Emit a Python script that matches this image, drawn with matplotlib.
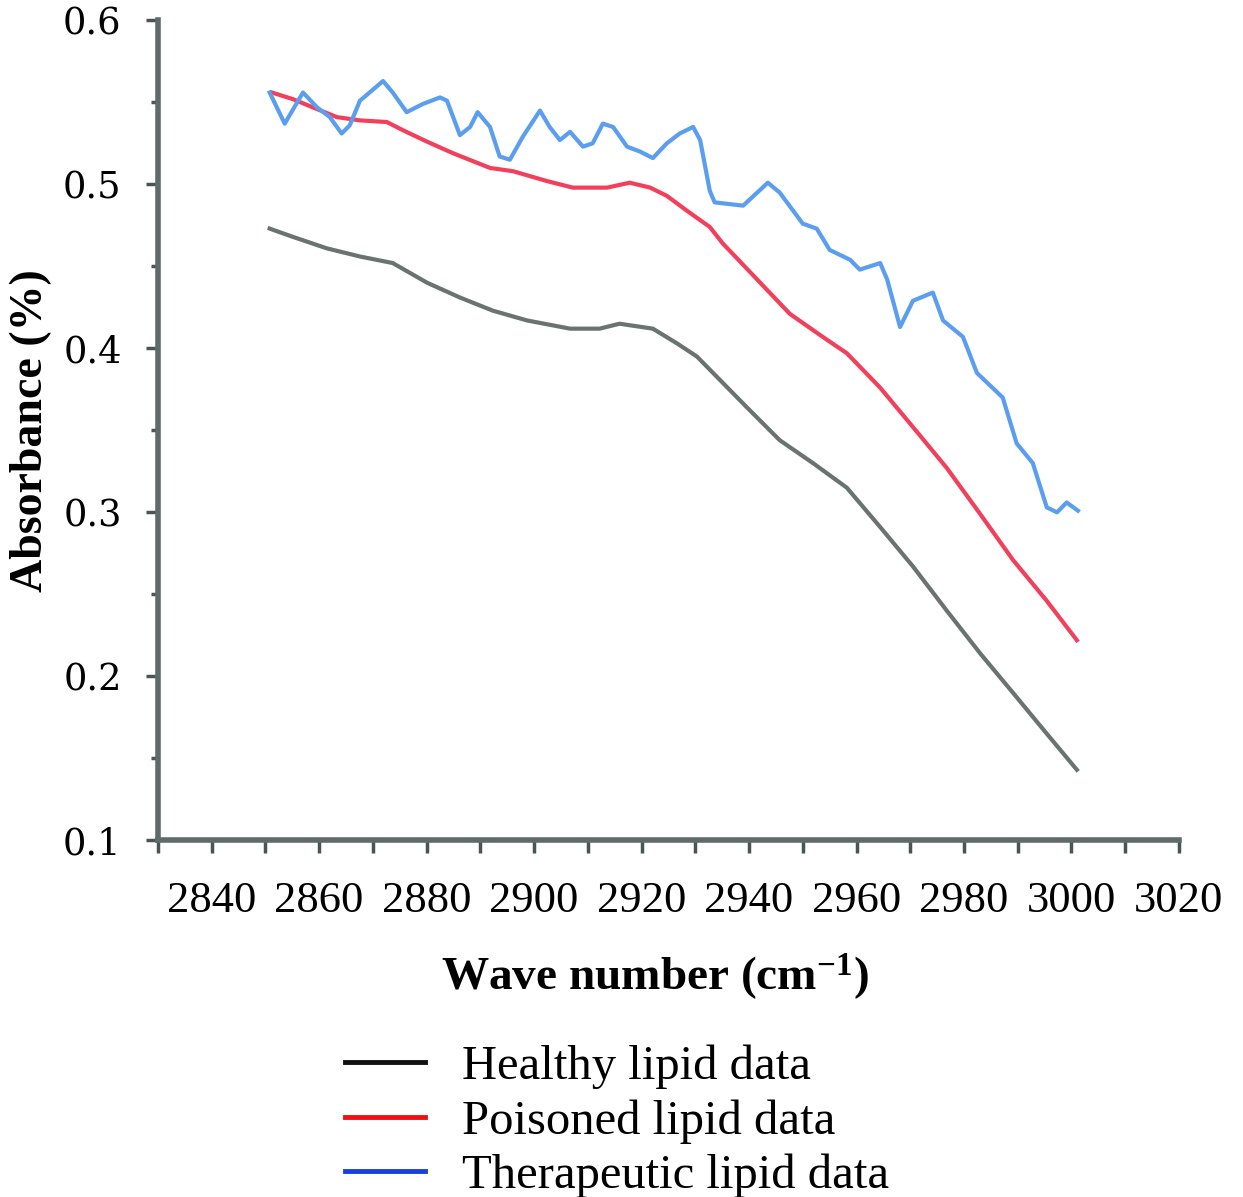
import matplotlib
matplotlib.use("Agg")
import matplotlib.pyplot as plt
from matplotlib.lines import Line2D
from matplotlib.ticker import MultipleLocator
import numpy as np

plt.rcParams['font.family'] = ['Liberation Serif', 'DejaVu Serif']
plt.rcParams['mathtext.fontset'] = 'custom'
plt.rcParams['mathtext.rm'] = 'Liberation Serif:bold'
plt.rcParams['mathtext.default'] = 'rm'

# healthy lipid
healthy_x = [2850.8, 2855.1, 2861.4, 2867.6, 2873.7, 2880.1, 2886.2, 2892.3, 2898.7,
             2906.7, 2912.2, 2915.9, 2922.1, 2926.6, 2930.3, 2933.3, 2939.6, 2945.7,
             2951.9, 2958.2, 2964.4, 2970.5, 2976.8, 2983.0, 2989.1, 2995.4, 3001.0]
healthy_y = [0.473, 0.468, 0.461, 0.456, 0.452, 0.440, 0.431, 0.423, 0.417,
             0.412, 0.412, 0.415, 0.412, 0.403, 0.395, 0.385, 0.364, 0.344,
             0.330, 0.315, 0.291, 0.267, 0.240, 0.214, 0.190, 0.165, 0.143]

# poisoned lipid
poisoned_x = [2851.2, 2855.1, 2858.8, 2863.3, 2867.6, 2872.6, 2875.6, 2880.1, 2884.9,
              2891.8, 2896.1, 2902.4, 2907.2, 2913.6, 2917.8, 2921.6, 2924.7, 2928.4,
              2932.7, 2935.1, 2941.5, 2947.6, 2953.7, 2958.2, 2964.4, 2970.5, 2976.8,
              2983.0, 2989.1, 2995.4, 3001.0]
poisoned_y = [0.556, 0.552, 0.547, 0.541, 0.539, 0.538, 0.533, 0.526, 0.519,
              0.510, 0.508, 0.502, 0.498, 0.498, 0.501, 0.498, 0.493, 0.484,
              0.474, 0.464, 0.442, 0.421, 0.407, 0.397, 0.376, 0.352, 0.327,
              0.299, 0.271, 0.246, 0.222]

# therapeutic lipid
therapeutic_x = [2850.8, 2853.6, 2857.0, 2859.6, 2862.0, 2864.2, 2865.7, 2867.6, 2871.9,
                 2873.7, 2876.3, 2879.3, 2882.5, 2883.8, 2886.2, 2888.1, 2889.5, 2891.8,
                 2893.6, 2895.5, 2897.9, 2901.1, 2902.9, 2904.8, 2906.7, 2909.1, 2910.9,
                 2912.8, 2914.7, 2917.3, 2919.7, 2922.1, 2924.7, 2927.1, 2929.6, 2930.9,
                 2932.7, 2933.6, 2938.9, 2943.5, 2945.7, 2950.0, 2952.6, 2955.0, 2958.8,
                 2960.6, 2964.4, 2965.7, 2968.1, 2970.5, 2974.2, 2976.1, 2979.8, 2982.4,
                 2987.2, 2989.8, 2992.8, 2995.4, 2997.3, 2999.1, 3001.2]
therapeutic_y = [0.556, 0.537, 0.556, 0.547, 0.541, 0.531, 0.536, 0.551, 0.563,
                 0.556, 0.544, 0.549, 0.553, 0.551, 0.530, 0.535, 0.544, 0.535,
                 0.517, 0.515, 0.529, 0.545, 0.535, 0.527, 0.532, 0.523, 0.525,
                 0.537, 0.535, 0.523, 0.520, 0.516, 0.525, 0.531, 0.535, 0.527,
                 0.496, 0.489, 0.487, 0.501, 0.495, 0.476, 0.473, 0.460, 0.454,
                 0.448, 0.452, 0.442, 0.413, 0.429, 0.434, 0.417, 0.407, 0.385,
                 0.370, 0.342, 0.330, 0.303, 0.300, 0.306, 0.301]

legend_labels = ['Healthy lipid data', 'Poisoned lipid data', 'Therapeutic lipid data']
x_ticklabels = list(range(2840, 3021, 20))
y_ticklabels = [0.1, 0.2, 0.3, 0.4, 0.5, 0.6]

fig = plt.figure(figsize=(12.43, 11.97), dpi=100)
ax = fig.add_axes([0.127, 0.298, 0.8215, 0.685])

ax.plot(healthy_x, healthy_y, color='#6b7371', lw=3)
ax.plot(poisoned_x, poisoned_y, color='#f2405c', lw=3)
ax.plot(therapeutic_x, therapeutic_y, color='#5b9ef0', lw=3)

ax.set_xlim(2830, 3020)
ax.set_ylim(0.1, 0.6)

for s in ['top', 'right']:
    ax.spines[s].set_visible(False)
for s in ['left', 'bottom']:
    ax.spines[s].set_color('#5f6b69')
    ax.spines[s].set_linewidth(4)

ax.set_xticks(x_ticklabels)
ax.set_xticklabels([str(v) for v in x_ticklabels])
ax.xaxis.set_minor_locator(MultipleLocator(10))
ax.set_yticks(y_ticklabels)
ax.set_yticklabels([str(v) for v in y_ticklabels], family='DejaVu Serif', fontsize=26.5)
ax.yaxis.set_minor_locator(MultipleLocator(0.05))

ax.tick_params(axis='x', which='both', direction='out', length=9, width=2.5,
               color='#4a5553', labelsize=32, pad=20)
ax.tick_params(axis='y', which='major', direction='out', length=9, width=2.5,
               color='#4a5553', pad=17)
ax.tick_params(axis='y', which='minor', direction='out', length=5, width=2.5,
               color='#4a5553')

ax.set_xlabel('Wave number (cm$^{-1}$)', fontsize=34, fontweight='bold')
ax.xaxis.set_label_coords(0.487, -0.135)
ax.set_ylabel('Absorbance (%)', fontsize=33, fontweight='bold', labelpad=8)

handles = [Line2D([], [], color='#111111', lw=3.5),
           Line2D([], [], color='#ee1111', lw=3.5),
           Line2D([], [], color='#1a3fe0', lw=3.5)]
fig.legend(handles, legend_labels, loc='upper left', bbox_to_anchor=(0.2775, 0.127),
           frameon=False, fontsize=35, handlelength=1.65, handletextpad=0.76,
           labelspacing=0.2, borderpad=0, borderaxespad=0)

fig.savefig('out.png', dpi=100)
